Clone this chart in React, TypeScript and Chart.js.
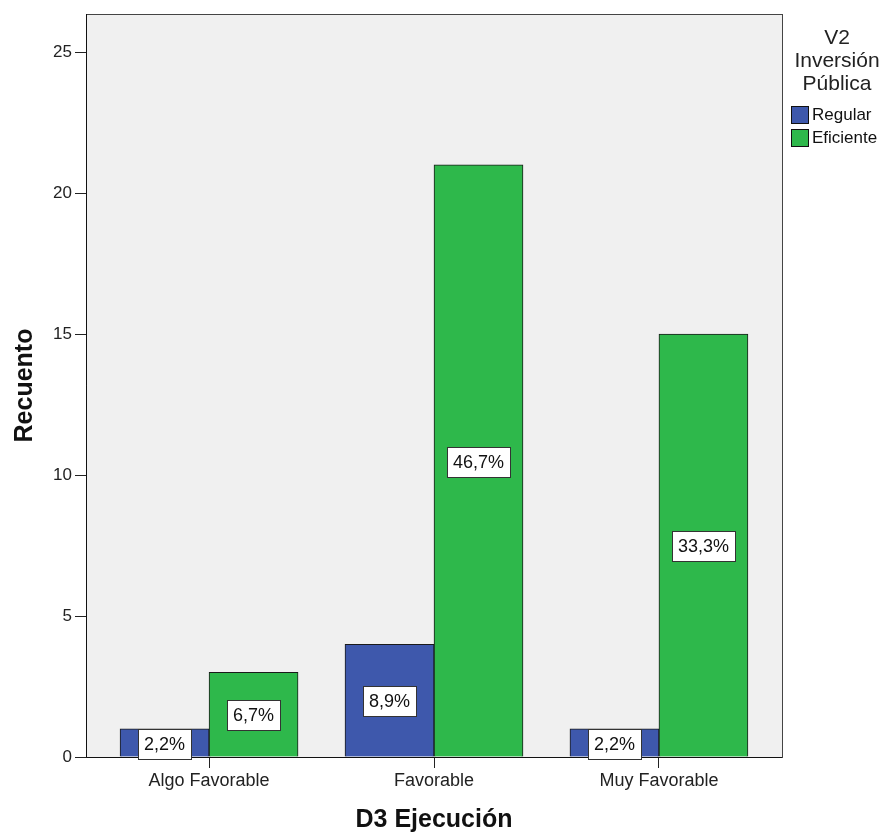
import { useEffect, useRef } from "react";
import { Chart, registerables } from "chart.js";
Chart.register(...registerables);

const categories = ["Algo Favorable", "Favorable", "Muy Favorable"];
const seriesNames = ["Regular", "Eficiente"];
const regularCounts = [1, 4, 1];
const eficienteCounts = [3, 21, 15];
const regularPercents = ["2,2%", "8,9%", "2,2%"];
const eficientePercents = ["6,7%", "46,7%", "33,3%"];
const legendTitle = ["V2", "Inversión", "Pública"];
const xTitle = "D3 Ejecución";
const yTitle = "Recuento";

const FONT = "'Liberation Sans', Arial, sans-serif";
const BLUE = "#3e58ac";
const GREEN = "#2eb84b";

export default function App() {
  const ref = useRef<HTMLCanvasElement | null>(null);
  useEffect(() => {
    const canvas = ref.current;
    if (!canvas) return;
    const percents = [regularPercents, eficientePercents];

    const decor = {
      id: "decor",
      beforeDraw(chart: any) {
        const { ctx, chartArea: a } = chart;
        ctx.save();
        ctx.fillStyle = "#ffffff";
        ctx.fillRect(0, 0, chart.width, chart.height);
        ctx.fillStyle = "#f0f0f0";
        ctx.fillRect(a.left, a.top, a.right - a.left, a.bottom - a.top);
        ctx.restore();
      },
      afterDatasetsDraw(chart: any) {
        const { ctx, chartArea: a } = chart;
        ctx.save();
        // plot border
        ctx.strokeStyle = "#444";
        ctx.lineWidth = 1;
        ctx.strokeRect(Math.round(a.left) + 0.5, Math.round(a.top) + 0.5, Math.round(a.right - a.left), Math.round(a.bottom - a.top));
        ctx.strokeStyle = "#111";
        ctx.beginPath();
        ctx.moveTo(Math.round(a.left) + 0.5, a.top);
        ctx.lineTo(Math.round(a.left) + 0.5, Math.round(a.bottom) + 0.5);
        ctx.lineTo(a.right, Math.round(a.bottom) + 0.5);
        ctx.stroke();

        // value label boxes
        ctx.font = `18px ${FONT}`;
        ctx.textAlign = "center";
        ctx.textBaseline = "middle";
        chart.data.datasets.forEach((_ds: any, di: number) => {
          const meta = chart.getDatasetMeta(di);
          meta.data.forEach((el: any, i: number) => {
            const txt = percents[di][i];
            const cx = el.x;
            const cy = (el.y + el.base) / 2 + 1;
            const w = Math.round(ctx.measureText(txt).width + 12);
            const h = 30;
            const x0 = Math.round(cx - w / 2) + 0.5;
            const y0 = Math.round(cy - h / 2) + 0.5;
            ctx.fillStyle = "#ffffff";
            ctx.fillRect(x0, y0, w, h);
            ctx.strokeStyle = "#333";
            ctx.lineWidth = 1;
            ctx.strokeRect(x0, y0, w, h);
            ctx.fillStyle = "#111";
            ctx.fillText(txt, cx, cy + 1);
          });
        });

        // axis titles
        ctx.fillStyle = "#111";
        ctx.font = `bold 25px ${FONT}`;
        ctx.textAlign = "center";
        ctx.textBaseline = "middle";
        ctx.fillText(xTitle, (a.left + a.right) / 2, 820);
        ctx.save();
        ctx.translate(25, (a.top + a.bottom) / 2);
        ctx.rotate(-Math.PI / 2);
        ctx.fillText(yTitle, 0, 0);
        ctx.restore();

        // legend
        ctx.font = `21px ${FONT}`;
        ctx.fillStyle = "#222";
        const lx = 837;
        legendTitle.forEach((line, k) => {
          ctx.fillText(line, lx, 38 + k * 23);
        });
        ctx.font = `17px ${FONT}`;
        ctx.textAlign = "left";
        chart.data.datasets.forEach((ds: any, di: number) => {
          const by = 106 + di * 23;
          ctx.fillStyle = ds.backgroundColor;
          ctx.fillRect(791.5, by + 0.5, 17, 17);
          ctx.strokeStyle = "#111";
          ctx.strokeRect(791.5, by + 0.5, 17, 17);
          ctx.fillStyle = "#111";
          ctx.fillText(ds.label, 812, by + 9.5);
        });
        ctx.restore();
      },
    };

    const chart = new Chart(canvas, {
      type: "bar",
      data: {
        datasets: [
          {
            label: seriesNames[0],
            data: regularCounts.map((v, i) => ({ x: i, y: v })),
            backgroundColor: BLUE,
            borderColor: "#1a1a1a",
            borderWidth: 1,
            barThickness: 89,
          },
          {
            label: seriesNames[1],
            data: eficienteCounts.map((v, i) => ({ x: i, y: v })),
            backgroundColor: GREEN,
            borderColor: "#1a1a1a",
            borderWidth: 1,
            barThickness: 89,
          },
        ],
      },
      options: {
        animation: false,
        responsive: false,
        devicePixelRatio: 1,
        layout: { padding: { top: 14, right: 103, left: 0, bottom: 0 } },
        plugins: { legend: { display: false }, tooltip: { enabled: false } },
        scales: {
          x: {
            type: "linear",
            offset: false,
            min: -0.547,
            max: 2.547,
            afterBuildTicks: (s: any) => {
              s.ticks = categories.map((_, i) => ({ value: i }));
            },
            afterFit: (s: any) => {
              s.height = 77;
            },
            ticks: {
              callback: (v: any) => categories[Math.round(Number(v))] ?? "",
              font: { family: FONT, size: 18 },
              color: "#222",
              padding: 2,
              maxRotation: 0,
              autoSkip: false,
            },
            grid: { drawOnChartArea: false, drawTicks: true, tickLength: 11, color: "#222", offset: false },
            border: { display: false },
          },
          y: {
            min: 0,
            max: 26.35,
            afterBuildTicks: (s: any) => {
              s.ticks = [0, 5, 10, 15, 20, 25].map((v) => ({ value: v }));
            },
            afterFit: (s: any) => {
              s.width = 86;
            },
            ticks: {
              font: { family: FONT, size: 17 },
              color: "#222",
              padding: 3,
            },
            grid: { drawOnChartArea: false, drawTicks: true, tickLength: 11, color: "#222" },
            border: { display: false },
          },
        },
      },
      plugins: [decor],
    } as any);
    return () => chart.destroy();
  }, []);

  return (
    <div style={{ position: "fixed", left: 0, top: 0, width: 885, height: 834, background: "#fff" }}>
      <canvas ref={ref} width={885} height={834} style={{ width: 885, height: 834, display: "block" }} />
    </div>
  );
}
